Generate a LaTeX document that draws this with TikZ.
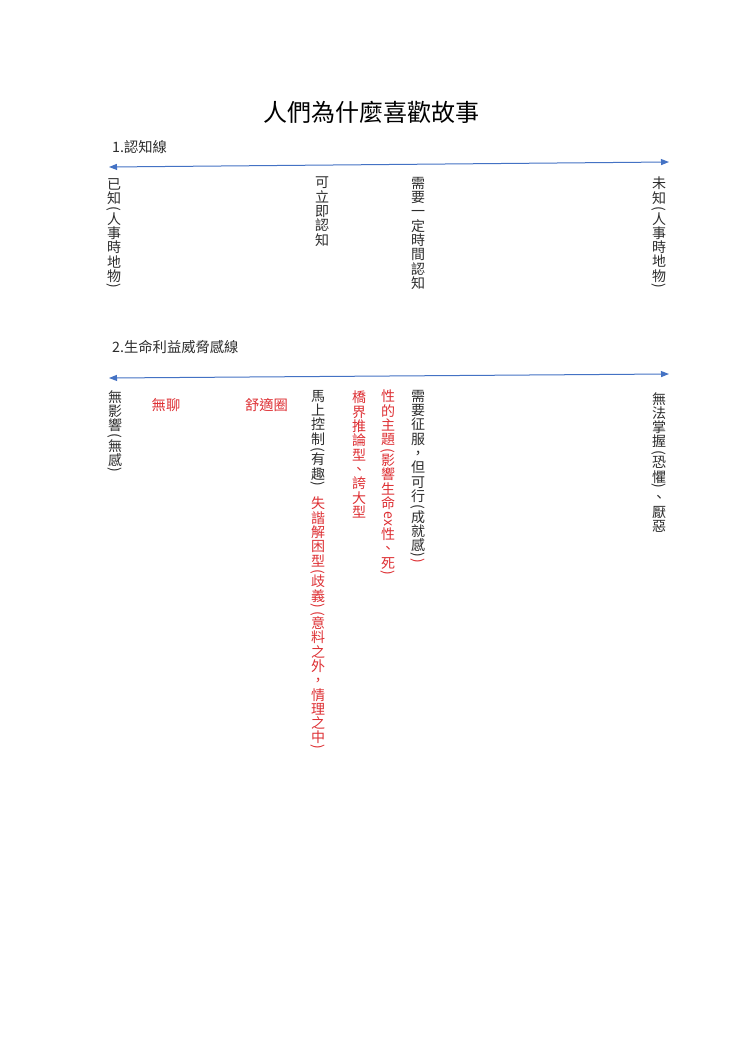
\documentclass[tikz,border=0pt]{standalone}
\usepackage{fontspec}
\usepackage{graphicx}
\newfontfamily\cjk{Noto Sans CJK TC}
\usetikzlibrary{arrows.meta}
\definecolor{ink}{RGB}{45,45,45}
\definecolor{vred}{RGB}{222,48,52}
\definecolor{lineblue}{RGB}{68,114,196}
\lineskiplimit=-20pt
\newcommand\vop{\raisebox{-3.5pt}{\rotatebox[origin=c]{-90}{(}}}
\newcommand\vcp{\raisebox{-2pt}{\rotatebox[origin=c]{-90}{)}}}
\newcommand\vex{\raisebox{1pt}{\rotatebox[origin=c]{-90}{ex}}}
\begin{document}
\begin{tikzpicture}[x=1pt,y=-1pt,
  vcol/.style={anchor=north, inner sep=0pt, align=center, text=ink,
    font=\cjk\fontsize{14}{14.3}\selectfont},
  vcolred/.style={vcol, text=vred},
  hlab/.style={inner sep=0pt, text=ink, font=\cjk\fontsize{14.3}{16}\selectfont},
  hlabred/.style={hlab, text=vred},
  axis/.style={draw=lineblue, line width=1pt, >={Triangle[length=8pt,width=6pt]}, <->}]
\fill[white] (0,0) rectangle (740,1046);
\useasboundingbox (0,0) rectangle (740,1046);

% title
\node[inner sep=0pt, text=black, font=\cjk\fontsize{24}{28}\selectfont] (title) at (371,112) {人們為什麼喜歡故事};

% section 1
\node[hlab, anchor=west] (h1) at (112,147) {1.認知線};
\coordinate (l1a) at (109,167);
\coordinate (l1b) at (669,162);
\draw[axis] (l1a) -- (l1b);

\node[vcol] (c1a) at (114,178) {已\\知\\[-7.8pt]\vop\\人\\事\\時\\地\\物\\[-7.8pt]\vcp};
\node[vcol] (c1b) at (322,177) {可\\立\\即\\認\\知};
\node[vcol] (c1c) at (418,177) {需\\要\\一\\定\\時\\間\\認\\知};
\node[vcol] (c1d) at (659,177) {未\\知\\[-7.8pt]\vop\\人\\事\\時\\地\\物\\[-7.8pt]\vcp};

% section 2
\node[hlab, anchor=west] (h2) at (112,347) {2.生命利益威脅感線};
\coordinate (l2a) at (109,378);
\coordinate (l2b) at (669,374);
\draw[axis] (l2a) -- (l2b);

\node[vcol] (c2a) at (115,390) {無\\影\\響\\[-7.8pt]\vop\\無\\感\\[-7.8pt]\vcp};
\node[hlabred] (c2b) at (166,405) {無聊};
\node[hlabred] (c2c) at (266.5,405) {舒適圈};
\node[vcol] (c2d) at (318,390) {馬\\上\\控\\制\\[-7.8pt]\vop\\有\\趣\\[-7.8pt]\vcp};
\node[vcolred] (c2e) at (318,497) {失\\諧\\解\\困\\型\\[-7.8pt]\vop\\歧\\義\\[-7.8pt]\vcp\\[-7.8pt]\vop\\意\\料\\之\\外\\，\\情\\理\\之\\中\\[-7.8pt]\vcp};
\node[vcolred] (c2f) at (359,391) {橋\\界\\推\\論\\型\\、\\誇\\大\\型};
\node[vcolred] (c2g) at (388,390) {性\\的\\主\\題\\[-7.8pt]\vop\\影\\響\\生\\命\\[1pt]\vex\\[1.5pt]性\\、\\死\\[-7.8pt]\vcp};
\node[vcol] (c2h) at (418,390) {需\\要\\征\\服\\，\\但\\可\\行\\[-7.8pt]\vop\\成\\就\\感\\[-7.8pt]\vcp\\[-8.5pt]\textcolor{vred}{\vcp}};
\node[vcol] (c2i) at (659,392) {無\\法\\掌\\握\\[-7.8pt]\vop\\恐\\懼\\[-7.8pt]\vcp\\、\\厭\\惡};
\end{tikzpicture}
\end{document}
